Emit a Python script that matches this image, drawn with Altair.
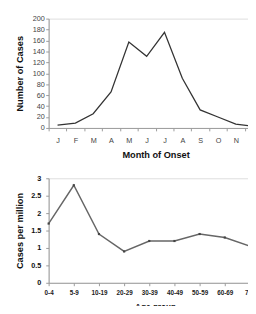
import altair as alt
import pandas as pd

month_keys = ["Jan", "Feb", "Mar", "Apr", "May", "Jun", "Jul", "Aug", "Sep", "Oct", "Nov", "Dec"]
month_cases = [5, 9, 26, 66, 157, 131, 175, 91, 33, 20, 7, 3]

age_groups = ["0-4", "5-9", "10-19", "20-29", "30-39", "40-49", "50-59", "60-69", "70+"]
age_rates = [1.7, 2.8, 1.4, 0.9, 1.2, 1.2, 1.4, 1.3, 1.05]

df_m = pd.DataFrame({"month": month_keys, "cases": month_cases})
df_a = pd.DataFrame({"age": age_groups, "rate": age_rates})

FONT = "Liberation Sans"

top = alt.Chart(df_m).mark_line(color="#333333", strokeWidth=1.3).encode(
    x=alt.X("month:N", sort=month_keys, bandPosition=0.5,
            scale=alt.Scale(type="band", paddingInner=0, paddingOuter=0),
            axis=alt.Axis(title="Month of Onset", labelAngle=0,
                          labelExpr="substring(datum.label,0,1)",
                          tickBand="extent", tickSize=3, tickColor="#999999",
                          domainColor="#999999", labelFontSize=7.5, labelColor="#444444",
                          labelPadding=6, titleFontSize=9.5, titleFontWeight="bold",
                          titlePadding=6, titleColor="#111111", labelFont=FONT, titleFont=FONT)),
    y=alt.Y("cases:Q", scale=alt.Scale(domain=[0, 200], nice=False),
            axis=alt.Axis(title="Number of Cases", values=list(range(0, 201, 20)),
                          grid=False, tickSize=3, tickColor="#999999", domainColor="#999999",
                          labelFontSize=7.5, labelColor="#444444", labelPadding=1.5,
                          titleFontSize=9.5, titleFontWeight="bold", titlePadding=7.5,
                          titleColor="#111111", labelFont=FONT, titleFont=FONT)),
).properties(width=221, height=113)

bottom = alt.Chart(df_a).mark_line(color="#666666", strokeWidth=1.5,
                                   point=alt.OverlayMarkDef(shape="square", size=5, color="#444444", filled=True)).encode(
    x=alt.X("age:N", sort=age_groups, scale=alt.Scale(type="point", padding=0),
            axis=alt.Axis(title="Age group", labelAngle=0, tickSize=3, tickColor="#999999",
                          domainColor="#999999", labelFontSize=6.5, labelFontWeight="bold",
                          labelColor="#222222", labelPadding=4, titleFontSize=8.5,
                          titleFontWeight="bold", titlePadding=7, titleColor="#111111",
                          titleX=110, labelFont=FONT, titleFont=FONT)),
    y=alt.Y("rate:Q", scale=alt.Scale(domain=[0, 3], nice=False),
            axis=alt.Axis(title="Cases per million", values=[0, 0.5, 1, 1.5, 2, 2.5, 3],
                          format="~g", grid=False, tickSize=3, tickColor="#999999",
                          domainColor="#999999", labelFontSize=7.5, labelFontWeight="bold",
                          labelColor="#111111", labelPadding=5, titleFontSize=9.5,
                          titleFontWeight="bold", titlePadding=7, titleColor="#111111",
                          labelFont=FONT, titleFont=FONT)),
).properties(width=208, height=108)

chart = alt.concat(top, bottom, columns=1, spacing=14, align="none").properties(
    autosize=alt.AutoSizeParams(type="none"),
    padding={"top": 6, "left": 42, "right": 206, "bottom": 292},
).configure_view(stroke="#999999", strokeWidth=1).configure(background="white")

chart.save("out.html", embed_options={"renderer": "svg", "actions": False})
